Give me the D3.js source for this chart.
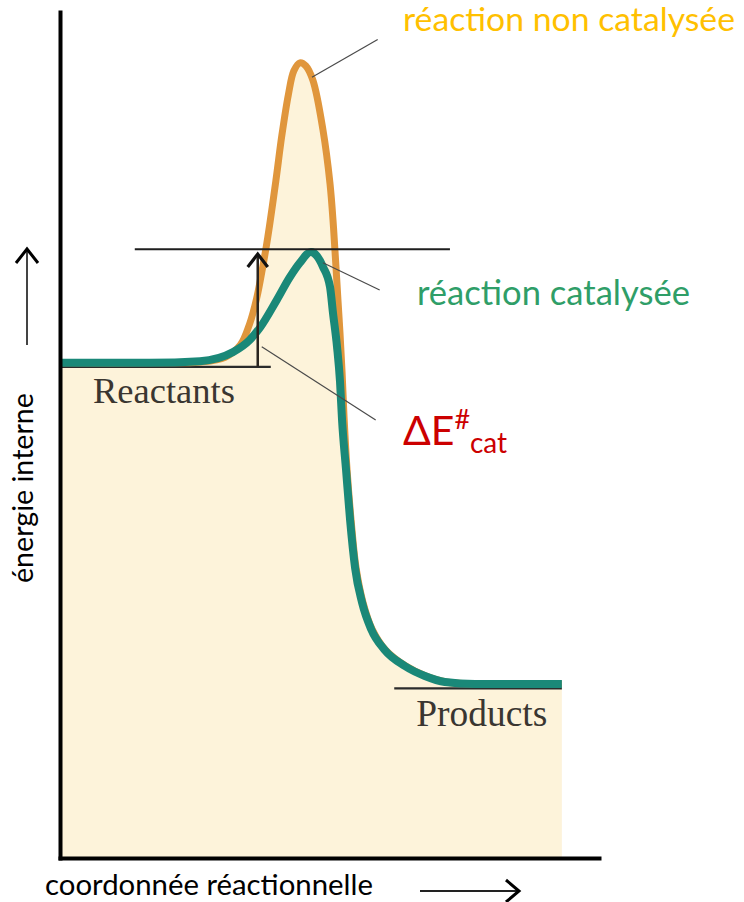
<!DOCTYPE html>
<html>
<head>
<meta charset="utf-8">
<script src="https://cdn.jsdelivr.net/npm/d3@7"></script>
<style>
  html, body { margin: 0; padding: 0; background: #fff; }
</style>
</head>
<body>
<div id="chart"></div>
<script>
// reaction coordinate (0..100) and internal energy (0..100)
var nonCatalysee = [
  [0, 61.9], [17.9, 61.9], [27.9, 62.0], [32.9, 62.6], [35.9, 64.1], [37.8, 66.8],
  [39.2, 70.0], [40.4, 73.9], [41.4, 77.6], [43.0, 84.6], [44.2, 90.3], [45.5, 95.4],
  [46.6, 98.4], [47.8, 99.4], [49.0, 99.0], [50.4, 97.2], [52.4, 91.0], [53.8, 84.3],
  [54.5, 78.8], [55.0, 73.8], [55.4, 69.6], [55.8, 65.5], [56.2, 60.8], [56.6, 55.1],
  [57.2, 48.5], [58.0, 42.25], [59.0, 36.25], [60.4, 31.9], [62.2, 28.6], [64.9, 26.0],
  [68.9, 24.0], [72.9, 22.75], [76.9, 22.0], [82.9, 21.75], [100, 21.75]
];
var catalysee = [
  [0, 61.9], [17.9, 61.9], [27.9, 62.1], [34.5, 63.25], [37.8, 64.75], [39.8, 66.25],
  [43.2, 69.75], [45.8, 72.6], [47.8, 74.4], [50.0, 75.75], [51.2, 75.25], [52.4, 73.9],
  [53.8, 71.4], [54.4, 68.1], [55.2, 63.9], [55.8, 59.5], [56.2, 54.75], [57.0, 48.5],
  [57.8, 42.25], [58.8, 36.25], [60.2, 31.9], [62.0, 28.6], [64.7, 26.0], [68.7, 24.0],
  [72.7, 22.75], [76.7, 22.0], [82.7, 21.75], [100, 21.75]
];
// energy levels: [label, energy, x start, x end]
var levels = [["Reactants", 61.4, 0, 42], ["Products", 21.2, 66.6, 100]];
var barrier = [76.1, 14.9, 77.7];        // energy, x start, x end
var deltaArrow = [39.4, 61.4, 75.5];     // x, from energy, to energy
// leader lines from curve to label: [x1, e1, x2, e2]
var leaders = [
  [50.2, 97.6, 63.3, 102.3],
  [52.4, 74.4, 63.7, 71.0],
  [40.2, 63.9, 62.9, 54.75]
];

var width = 744, height = 902;

var svg = d3.select("#chart").append("svg")
  .attr("width", width)
  .attr("height", height)
  .style("background", "#fff");

var x = d3.scaleLinear().domain([0, 107.4]).range([60, 599]);
var y = d3.scaleLinear().domain([0, 105.75]).range([858, 12]);

var sans = "Lato, 'Open Sans', sans-serif";
var serif = "'Liberation Serif', 'DejaVu Serif', serif";

function fitWidth(sel, w) {
  var len = sel.node().getComputedTextLength();
  var fs = parseFloat(sel.attr("font-size"));
  sel.attr("font-size", (fs * w / len).toFixed(2));
}

// cream area under the envelope
var area = d3.area()
  .x(function(d) { return x(d[0]); })
  .y0(y(0))
  .y1(function(d) { return y(d[1]); })
  .curve(d3.curveCatmullRom.alpha(0.5));

svg.append("path")
  .datum(nonCatalysee)
  .attr("d", area)
  .attr("fill", "#fdf3da");

// reactant / product levels
levels.forEach(function(l) {
  svg.append("line")
    .attr("x1", x(l[2])).attr("x2", x(l[3]))
    .attr("y1", y(l[1])).attr("y2", y(l[1]))
    .attr("stroke", "#2b2b2b")
    .attr("stroke-width", 2.2);
});

var smooth = d3.line()
  .x(function(d) { return x(d[0]); })
  .y(function(d) { return y(d[1]); })
  .curve(d3.curveCatmullRom.alpha(0.5));

var line = d3.line()
  .x(function(d) { return x(d[0]); })
  .y(function(d) { return y(d[1]); })
  .curve(d3.curveMonotoneX);

svg.append("path")
  .datum(nonCatalysee)
  .attr("d", smooth)
  .attr("fill", "none")
  .attr("stroke", "#e0963c")
  .attr("stroke-width", 7);

svg.append("path")
  .datum(catalysee)
  .attr("d", line)
  .attr("fill", "none")
  .attr("stroke", "#1a8878")
  .attr("stroke-width", 8);

// barrier level of the catalysed reaction
svg.append("line")
  .attr("x1", x(barrier[1])).attr("x2", x(barrier[2]))
  .attr("y1", y(barrier[0])).attr("y2", y(barrier[0]))
  .attr("stroke", "#1e1e1e")
  .attr("stroke-width", 2);

// delta E arrow
var ax = x(deltaArrow[0]), aTop = y(deltaArrow[2]);
svg.append("line")
  .attr("x1", ax).attr("x2", ax)
  .attr("y1", y(deltaArrow[1])).attr("y2", aTop)
  .attr("stroke", "#2a2520")
  .attr("stroke-width", 2.5);
svg.append("path")
  .attr("d", "M" + (ax - 10) + "," + (aTop + 13) + "L" + ax + "," + aTop + "L" + (ax + 10) + "," + (aTop + 13))
  .attr("fill", "none")
  .attr("stroke", "#111")
  .attr("stroke-width", 3.2);

// leader lines
leaders.forEach(function(l) {
  svg.append("line")
    .attr("x1", x(l[0])).attr("y1", y(l[1]))
    .attr("x2", x(l[2])).attr("y2", y(l[3]))
    .attr("stroke", "#4a4a4a")
    .attr("stroke-width", 1.2);
});

// axes: plain thick lines, no ticks
svg.append("g")
  .attr("transform", "translate(0," + y(0) + ")")
  .call(d3.axisBottom(x).tickValues([]).tickSizeOuter(0))
  .call(function(g) { g.select(".domain").attr("stroke", "#000").attr("stroke-width", 4).attr("stroke-linecap", "square"); });

svg.append("g")
  .attr("transform", "translate(" + x(0) + ",0)")
  .call(d3.axisLeft(y).tickValues([]).tickSizeOuter(0))
  .call(function(g) { g.select(".domain").attr("stroke", "#000").attr("stroke-width", 4).attr("stroke-linecap", "square"); });

// level labels
var reactLbl = svg.append("text")
  .attr("x", x(levels[0][2]) + 33)
  .attr("y", y(levels[0][1]) + 36)
  .attr("font-family", serif)
  .attr("font-size", 35)
  .attr("fill", "#3a3631")
  .text(levels[0][0]);
fitWidth(reactLbl, 142);

var prodLbl = svg.append("text")
  .attr("x", x(levels[1][2]) + 22)
  .attr("y", y(levels[1][1]) + 38)
  .attr("font-family", serif)
  .attr("font-size", 35)
  .attr("fill", "#3a3631")
  .text(levels[1][0]);
fitWidth(prodLbl, 131);

// series labels
var t1 = svg.append("text")
  .attr("x", 403).attr("y", 31)
  .attr("font-family", sans)
  .attr("font-size", 36)
  .attr("fill", "#ffc000")
  .text("réaction non catalysée");
fitWidth(t1, 332);

var t2 = svg.append("text")
  .attr("x", 417).attr("y", 305)
  .attr("font-family", sans)
  .attr("font-size", 36)
  .attr("fill", "#2f9e68")
  .text("réaction catalysée");
fitWidth(t2, 273);

// ΔE#cat as a single text with super- and subscript
var de = svg.append("text")
  .attr("x", 403).attr("y", 445)
  .attr("font-family", sans)
  .attr("fill", "#cc0000");
de.append("tspan").attr("font-size", 41).text("ΔE");
de.append("tspan").attr("font-size", 27).attr("dy", -16).text("#");
de.append("tspan").attr("font-size", 28).attr("x", 470).attr("y", 453).text("cat");

// axis titles and arrows
var yt = svg.append("text")
  .attr("transform", "translate(33,583) rotate(-90)")
  .attr("font-family", sans)
  .attr("font-size", 28)
  .attr("fill", "#000")
  .text("énergie interne");
fitWidth(yt, 190);

var xt = svg.append("text")
  .attr("x", 45).attr("y", 895)
  .attr("font-family", sans)
  .attr("font-size", 29)
  .attr("fill", "#000")
  .text("coordonnée réactionnelle");
fitWidth(xt, 328);

svg.append("line")
  .attr("x1", 27).attr("x2", 27).attr("y1", 345).attr("y2", 250)
  .attr("stroke", "#444").attr("stroke-width", 2);
svg.append("path")
  .attr("d", "M16,263L27,249L38,263")
  .attr("fill", "none").attr("stroke", "#000").attr("stroke-width", 3);

svg.append("line")
  .attr("x1", 420).attr("x2", 517).attr("y1", 891).attr("y2", 891)
  .attr("stroke", "#222").attr("stroke-width", 2);
svg.append("path")
  .attr("d", "M506,880L519,891L506,902")
  .attr("fill", "none").attr("stroke", "#000").attr("stroke-width", 3);
</script>
</body>
</html>
